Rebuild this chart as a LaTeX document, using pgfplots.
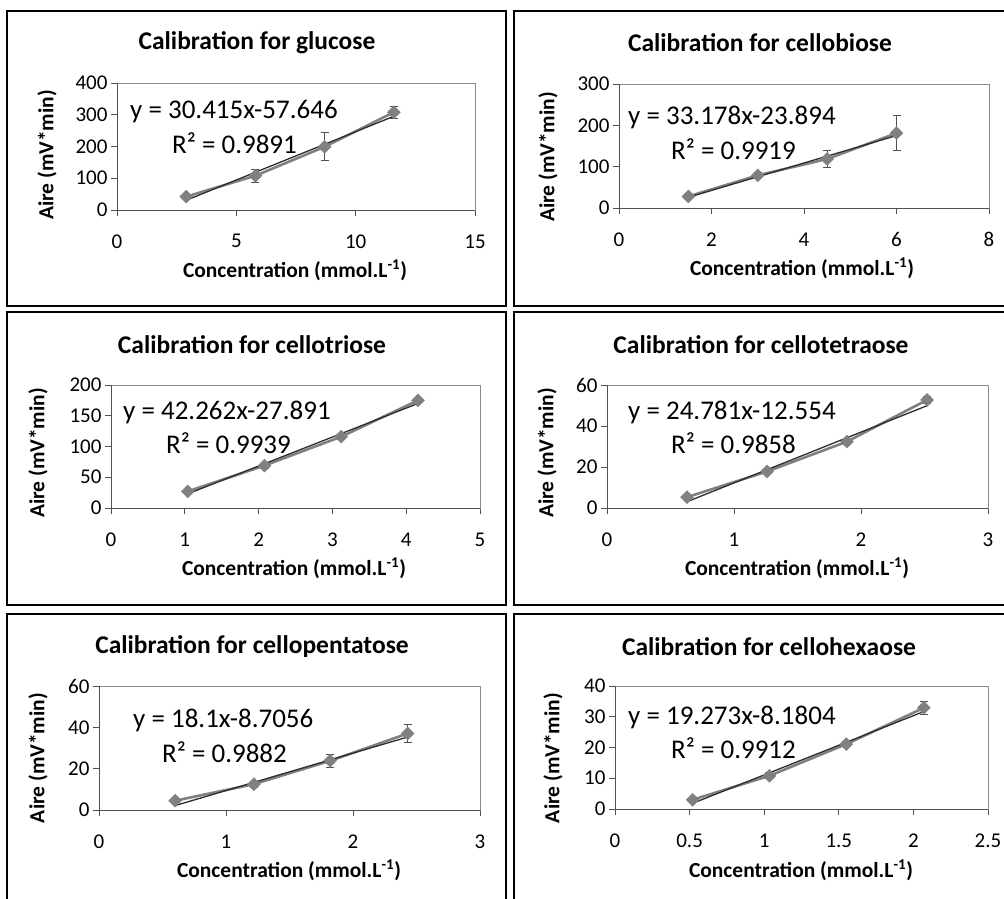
\documentclass[border=0pt]{standalone}
\usepackage{fontspec}
\setmainfont{Carlito}
\usepackage{pgfplots}
\pgfplotsset{compat=1.18}
\definecolor{series}{RGB}{128,128,128}
\definecolor{trend}{RGB}{45,45,45}
\definecolor{pframe}{RGB}{140,140,140}
\definecolor{axdark}{RGB}{80,80,80}
\pgfplotsset{
 calib/.style={
  scale only axis, anchor=south west,
  axis line style={draw=pframe, line width=0.8pt},
  xtick pos=bottom, ytick pos=left, tick align=outside,
  major tick length=6pt,
  every tick/.style={draw=axdark, line width=0.8pt},
  tick label style={font=\fontsize{21}{21}\selectfont},
  xticklabel style={yshift=-15pt},
  yticklabel style={xshift=0pt},
  /pgf/number format/assume math mode=true,
  clip=false,
 },
 ser/.style={color=series, line width=2.6pt, mark=square*, mark size=4.6pt,
   mark options={rotate=45, fill=series, draw=series, line width=0.4pt}},
 errb/.style={draw=none, mark=none, forget plot,
   error bars/.cd, y dir=both, y explicit,
   error bar style={draw=axdark, line width=0.8pt},
   error mark options={rotate=90, draw=axdark, mark size=4pt, line width=0.8pt}},
 tr/.style={color=trend, line width=1.3pt, mark=none},
}
\newcommand{\axlines}{\draw[axdark, line width=0.8pt] (rel axis cs:0,1) -- (rel axis cs:0,0) -- (rel axis cs:1,0);}
\newcommand{\ttl}[3]{\node[font=\bfseries\fontsize{25.5}{25.5}\selectfont] at (#1pt,#2pt) {#3};}
\newcommand{\xl}[2]{\node[font=\bfseries\fontsize{21.5}{21.5}\selectfont] at (#1pt,#2pt) {Concentration (mmol.L\textsuperscript{-1})};}
\newcommand{\yl}[2]{\node[font=\bfseries\fontsize{21.5}{21.5}\selectfont, rotate=90] at (#1pt,#2pt) {Aire (mV*min)};}
\newcommand{\eq}[3]{\node[anchor=west, inner sep=0pt, font=\fontsize{27}{27}\selectfont] at (#1pt,#2pt) {#3};}
\begin{document}
\begin{tikzpicture}[x=1pt,y=1pt]
\useasboundingbox (0,0) rectangle (1004,899);
\clip (0,0) rectangle (1004,899);
% frames
\draw[black, line width=2pt] (7,888) rectangle (505.5,593);
\draw[black, line width=2pt] (514,888) rectangle (1010,593);
\draw[black, line width=2pt] (7,587) rectangle (505.5,294);
\draw[black, line width=2pt] (514,587) rectangle (1010,294);
\draw[black, line width=2pt] (7,285) rectangle (505.5,-10);
\draw[black, line width=2pt] (514,285) rectangle (1010,-10);

% Panel 1 glucose
\begin{axis}[calib, at={(117pt,689pt)}, width=358pt, height=127pt,
  xmin=0, xmax=15, xtick={0,5,10,15}, ymin=0, ymax=400, ytick={0,100,200,300,400}]
\addplot[ser] coordinates {(2.9,42) (5.8,108) (8.7,199) (11.6,308)};
\addplot[errb] coordinates {(2.9,42) +- (0,5) (5.8,108) +- (0,21) (8.7,199) +- (0,44) (11.6,308) +- (0,18)};
\addplot[tr] coordinates {(2.9,30.6) (11.6,295.2)};
\axlines
\end{axis}
% Panel 2 cellobiose
\begin{axis}[calib, at={(619pt,691pt)}, width=370pt, height=124pt,
  xmin=0, xmax=8, xtick={0,2,4,6,8}, ymin=0, ymax=300, ytick={0,100,200,300}]
\addplot[ser] coordinates {(1.5,28) (3,79) (4.5,118.5) (6,181)};
\addplot[errb] coordinates {(1.5,28) +- (0,3) (3,79) +- (0,6) (4.5,118.5) +- (0,20) (6,181) +- (0,42)};
\addplot[tr] coordinates {(1.5,25.9) (6,175.2)};
\axlines
\end{axis}
% Panel 3 cellotriose
\begin{axis}[calib, at={(111pt,391pt)}, width=369pt, height=123pt,
  xmin=0, xmax=5, xtick={0,1,2,3,4,5}, ymin=0, ymax=200, ytick={0,50,100,150,200}]
\addplot[ser] coordinates {(1.04,27) (2.08,69) (3.12,116) (4.16,175)};
\addplot[errb] coordinates {(1.04,27) +- (0,2) (2.08,69) +- (0,4) (3.12,116) +- (0,4) (4.16,175) +- (0,3)};
\addplot[tr] coordinates {(1.04,23) (4.16,170)};
\axlines
\end{axis}
% Panel 4 cellotetraose
\begin{axis}[calib, at={(607pt,391pt)}, width=381pt, height=123pt,
  xmin=0, xmax=3, xtick={0,1,2,3}, ymin=0, ymax=60, ytick={0,20,40,60}]
\addplot[ser] coordinates {(0.63,5.3) (1.26,17.8) (1.89,32.4) (2.52,52.7)};
\addplot[errb] coordinates {(0.63,5.3) +- (0,0.5) (1.26,17.8) +- (0,1) (1.89,32.4) +- (0,1.2) (2.52,52.7) +- (0,1.5)};
\addplot[tr] coordinates {(0.63,3.06) (2.52,49.9)};
\axlines
\end{axis}
% Panel 5 cellopentatose
\begin{axis}[calib, at={(99pt,89pt)}, width=381pt, height=124pt,
  xmin=0, xmax=3, xtick={0,1,2,3}, ymin=0, ymax=60, ytick={0,20,40,60}]
\addplot[ser] coordinates {(0.60,4.5) (1.22,12.5) (1.82,23.8) (2.43,37)};
\addplot[errb] coordinates {(0.60,4.5) +- (0,0.5) (1.22,12.5) +- (0,1.5) (1.82,23.8) +- (0,3) (2.43,37) +- (0,4.3)};
\addplot[tr] coordinates {(0.60,2.15) (2.43,35.3)};
\axlines
\end{axis}
% Panel 6 cellohexaose
\begin{axis}[calib, at={(615pt,90pt)}, width=373pt, height=123pt,
  xmin=0, xmax=2.5, xtick={0,0.5,1,1.5,2,2.5}, ymin=0, ymax=40, ytick={0,10,20,30,40}]
\addplot[ser] coordinates {(0.52,3.0) (1.035,10.8) (1.55,21.1) (2.07,32.9)};
\addplot[errb] coordinates {(0.52,3.0) +- (0,0.3) (1.035,10.8) +- (0,1) (1.55,21.1) +- (0,0.8) (2.07,32.9) +- (0,2)};
\addplot[tr] coordinates {(0.52,1.84) (2.07,31.7)};
\axlines
\end{axis}

% titles
\ttl{257}{856}{Calibration for glucose}
\ttl{760}{856}{Calibration for cellobiose}
\ttl{252}{554}{Calibration for cellotriose}
\ttl{761}{554}{Calibration for cellotetraose}
\ttl{252}{252}{Calibration for cellopentatose}
\ttl{769}{252}{Calibration for cellohexaose}
% x labels
\xl{295}{629}\xl{802}{631}\xl{294}{331}\xl{797}{331}\xl{289}{29}\xl{801}{29}
% y labels
\yl{47}{744}\yl{548}{742}\yl{38}{446}\yl{547}{446}\yl{38}{141}\yl{553}{141}
% equations
\eq{130}{787}{y = 30.415x-57.646}\eq{172}{756}{R² = 0.9891}
\eq{628}{782}{y = 33.178x-23.894}\eq{671}{750}{R² = 0.9919}
\eq{123}{487}{y = 42.262x-27.891}\eq{166}{456}{R² = 0.9939}
\eq{628}{487}{y = 24.781x-12.554}\eq{671}{456}{R² = 0.9858}
\eq{133}{179}{y = 18.1x-8.7056}\eq{162}{147}{R² = 0.9882}
\eq{628}{182}{y = 19.273x-8.1804}\eq{671}{151}{R² = 0.9912}
\end{tikzpicture}
\end{document}
